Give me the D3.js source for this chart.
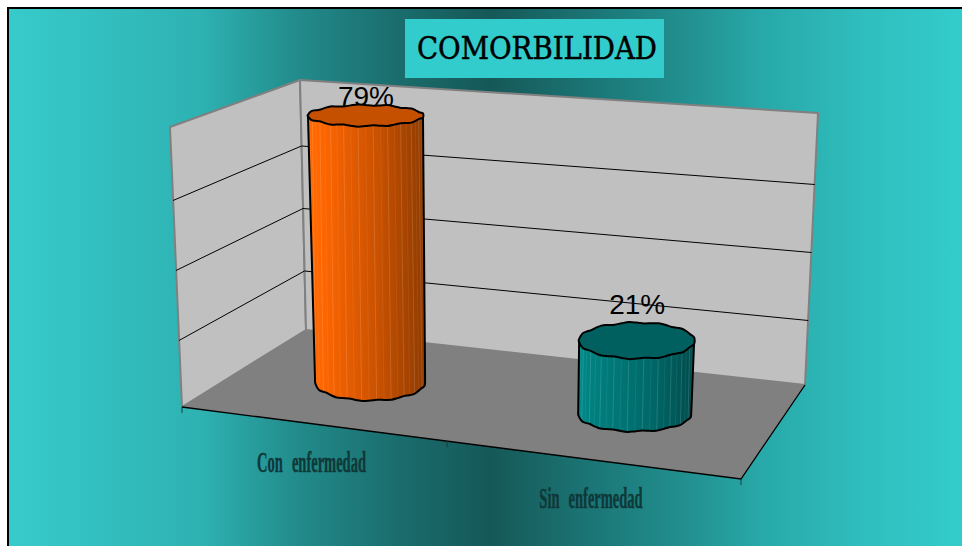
<!DOCTYPE html>
<html><head><meta charset="utf-8">
<script src="https://cdn.jsdelivr.net/npm/d3@7"></script>
<style>html,body{margin:0;padding:0;background:#fff;overflow:hidden}svg{display:block}</style>
</head><body><div id="chart"></div>
<script>
const categories = ["Con enfermedad", "Sin enfermedad"];
const values = [0.79, 0.21];
const valueLabels = ["79%", "21%"];
const gridValues = [0.2, 0.4, 0.6, 0.8];
const titleText = "COMORBILIDAD";
const sideStops = [["#ff6a00","#ff6600","#c95100","#8f3b00"],["#008a8a","#008080","#006a6a","#004c4c"]];
const topColors = ["#c45000","#006060"];
const W = 962, H = 546;

const corners = {
  "000":[182,407],"100":[741,479],"010":[306,330],"110":[805,385],
  "001":[170,127],"101":[755,167],"011":[300,80],"111":[818,113]
};
const yValue = d3.scaleLinear().domain([0,0.8]).range([0,1]);
const xCat = d3.scalePoint().domain(categories).range([0.2365,0.7385]);
const lerp = (a,b,t)=>[a[0]+(b[0]-a[0])*t,a[1]+(b[1]-a[1])*t];
function proj(u,d,v){
  const c=corners;
  const f0=lerp(lerp(c["000"],c["100"],u),lerp(c["010"],c["110"],u),d);
  const f1=lerp(lerp(c["001"],c["101"],u),lerp(c["011"],c["111"],u),d);
  return lerp(f0,f1,v);
}
const svg=d3.select("#chart").append("svg").attr("width",W).attr("height",H).attr("viewBox",[0,0,W,H]);
const defs=svg.append("defs");
const bg=defs.append("linearGradient").attr("id","bg").attr("gradientUnits","userSpaceOnUse").attr("x1",0).attr("x2",W).attr("y1",0).attr("y2",0);
[[0,"#38cccc"],[0.208,"#2eb2b2"],[0.312,"#228a8a"],[0.416,"#1a6c6c"],[0.51,"#165858"],[0.624,"#1c7878"],[0.728,"#239494"],[0.79,"#28a8a8"],[0.9,"#30bebe"],[1,"#33cccc"]]
 .forEach(s=>bg.append("stop").attr("offset",s[0]).attr("stop-color",s[1]));
svg.append("rect").attr("x",8).attr("y",8).attr("width",W).attr("height",H).attr("fill","url(#bg)").attr("stroke","#000").attr("stroke-width",2);

const poly=pts=>"M"+pts.map(p=>p.join(",")).join("L")+"Z";
svg.append("path").attr("d",poly([proj(0,0,1),proj(0,1,1),proj(0,1,0),proj(0,0,0)])).attr("fill","#c0c0c0").attr("stroke","#808080").attr("stroke-width",2);
svg.append("path").attr("d",poly([proj(0,1,1),proj(1,1,1),proj(1,1,0),proj(0,1,0)])).attr("fill","#c0c0c0").attr("stroke","#808080").attr("stroke-width",2);
svg.append("path").attr("d",poly([proj(0,0,0),proj(0,1,0),proj(1,1,0),proj(1,0,0)])).attr("fill","#808080");
gridValues.slice(0,3).forEach(g=>{
  const v=yValue(g);
  svg.append("path").attr("d",d3.line()([proj(0,0,v),proj(0,1,v),proj(1,1,v)])).attr("transform","translate(0,3.5)")
    .attr("fill","none").attr("stroke","#000").attr("stroke-width",1);
});
svg.append("path").attr("d",d3.line()([proj(0,0,0),proj(1,0,0),proj(1,1,0)])).attr("fill","none").attr("stroke","#000").attr("stroke-width",1.3);
[0,0.474,1].forEach(u=>{
  const p=proj(u,0,0);
  svg.append("line").attr("x1",p[0]).attr("x2",p[0]).attr("y1",p[1]).attr("y2",p[1]+6).attr("stroke","#1a3c3c").attr("stroke-width",1);
});

const ryScale=d3.scaleLinear().domain([116,341]).range([10.5,18]).clamp(true);
const RX=57.5;
const bottomRx=[55,56.5];
const bottomDx=[1,0];
function ring(cx,cy,rx,ry,a0,a1,n){
  return d3.range(n+1).map(i=>{
    const a=a0+(a1-a0)*i/n;
    return [cx+rx*Math.cos(a),cy+ry*Math.sin(a)+0.7*Math.sin(a*12)];
  });
}
const smooth=d3.line().curve(d3.curveCatmullRom);
categories.forEach((cat,i)=>{
  const u=xCat(cat), v=yValue(values[i]);
  const b=proj(u,0.5,0), t=proj(u,0.5,v);
  svg.append("text").attr("x",t[0]+0.5).attr("y",i===0?106:314).attr("text-anchor","middle")
    .attr("font-family","'Liberation Sans',Arial,sans-serif").attr("font-size",28).attr("fill","#000").text(valueLabels[i]);
  const ryT=ryScale(t[1]), ryB=18-i*1;
  const gid="side"+i, g=defs.append("linearGradient").attr("id",gid);
  sideStops[i].forEach((c,k)=>g.append("stop").attr("offset",[0,0.12,0.6,1][k]).attr("stop-color",c));
  const front=ring(b[0]+bottomDx[i],b[1]-1,bottomRx[i],ryB,Math.PI,0,24);
  const top=ring(t[0],t[1],RX+0.5,ryT,0,2*Math.PI,48);
  const bodyD="M"+[t[0]-RX,t[1]]+"L"+smooth(front).slice(1)+"L"+[t[0]+RX,t[1]]+"Z";
  defs.append("clipPath").attr("id","clip"+i).append("path").attr("d",bodyD);
  svg.append("path").attr("d",bodyD).attr("fill",`url(#${gid})`);
  const stripes=svg.append("g").attr("clip-path",`url(#clip${i})`);
  d3.range(1,24).forEach(k=>{
    const x=t[0]-RX*Math.cos(k/24*Math.PI);
    stripes.append("line").attr("x1",x).attr("x2",x+(b[0]-t[0]))
      .attr("y1",t[1]).attr("y2",b[1]+ryB)
      .attr("stroke","#fff").attr("stroke-opacity",k%2?0.14:0.07).attr("stroke-width",1);
  });
  svg.append("path").attr("d",bodyD).attr("fill","none").attr("stroke","#000").attr("stroke-width",2).attr("stroke-linejoin","round");
  svg.append("path").attr("d",smooth(top)+"Z").attr("fill",topColors[i]).attr("stroke","#000").attr("stroke-width",2);
});

const catPos=[[311.5,472],[591,508]];
categories.forEach((c,i)=>{
  svg.append("text").attr("transform",`translate(${catPos[i][0]},${catPos[i][1]}) scale(0.5,1)`)
    .attr("text-anchor","middle").attr("font-family","'Liberation Serif',serif").attr("font-weight","bold")
    .attr("font-size",29).attr("fill","#0f3838").attr("stroke","#0f3838").attr("stroke-width",0.4).attr("word-spacing",11).text(c);
});
svg.append("rect").attr("x",405).attr("y",19).attr("width",259).attr("height",59).attr("fill","#33cccc");
svg.append("text").attr("x",417).attr("y",59).attr("font-family","'DejaVu Serif',serif").attr("font-size",31)
  .attr("textLength",240).attr("lengthAdjust","spacingAndGlyphs").attr("fill","#000").attr("stroke","#000").attr("stroke-width",0.5).text(titleText);
</script></body></html>
